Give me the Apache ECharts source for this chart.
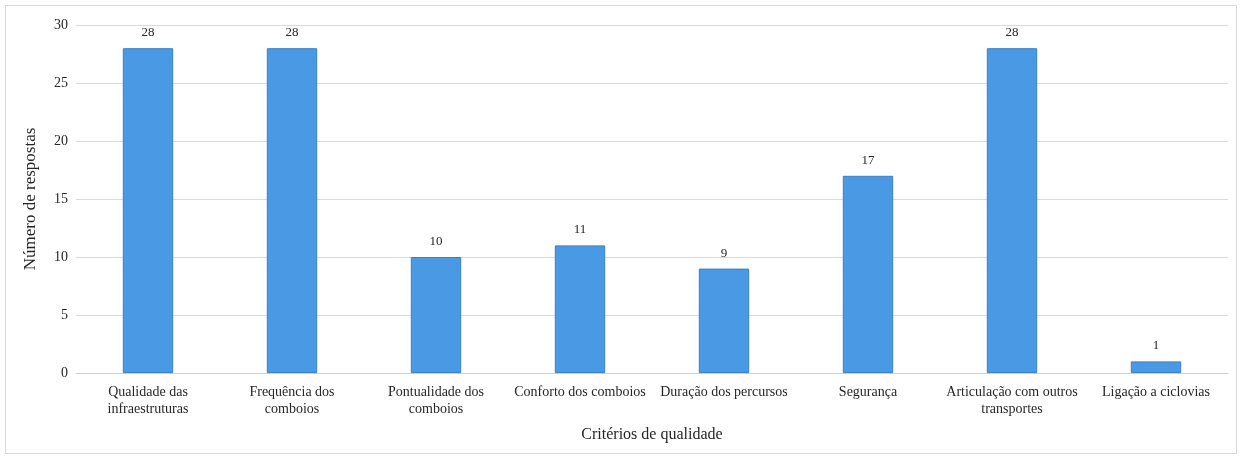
<!DOCTYPE html>
<html>
<head>
<meta charset="utf-8">
<script src="https://cdn.jsdelivr.net/npm/echarts@6/dist/echarts.min.js"></script>
<style>
  html, body { margin: 0; padding: 0; background: #fff; }
  #frame { position: absolute; left: 5px; top: 5px; width: 1232px; height: 449px; border: 1px solid #d9d9d9; box-sizing: border-box; }
  #chart { width: 1243px; height: 459px; }
</style>
</head>
<body>
<div id="frame"></div>
<div id="chart"></div>
<script>
const categories = [
  'Qualidade das\ninfraestruturas',
  'Frequência dos\ncomboios',
  'Pontualidade dos\ncomboios',
  'Conforto dos comboios',
  'Duração dos percursos',
  'Segurança',
  'Articulação com outros\ntransportes',
  'Ligação a ciclovias'
];
const respostas = [28, 28, 10, 11, 9, 17, 28, 1];
const yTicks = { min: 0, max: 30, interval: 5 };

const font = 'Liberation Serif, Times New Roman, serif';
const chart = echarts.init(document.getElementById('chart'), null, { renderer: 'canvas' });
chart.setOption({
  animation: false,
  textStyle: { fontFamily: font },
  grid: { left: 76, right: 15, top: 25, bottom: 86, containLabel: false },
  xAxis: {
    type: 'category',
    data: categories,
    name: 'Critérios de qualidade',
    nameLocation: 'middle',
    nameGap: 54,
    nameTextStyle: { fontFamily: font, fontSize: 16, color: '#262626' },
    axisLine: { lineStyle: { color: '#d0d0d0', width: 1 } },
    axisTick: { show: false },
    axisLabel: { fontFamily: font, fontSize: 14, color: '#262626', margin: 11, lineHeight: 17, interval: 0 }
  },
  yAxis: {
    type: 'value',
    min: yTicks.min, max: yTicks.max, interval: yTicks.interval,
    name: 'Número de respostas',
    nameLocation: 'middle',
    nameGap: 37,
    nameTextStyle: { fontFamily: font, fontSize: 17, color: '#262626' },
    axisLine: { show: false },
    axisTick: { show: false },
    splitLine: { lineStyle: { color: '#d9d9d9', width: 1 } },
    axisLabel: { fontFamily: font, fontSize: 14, color: '#262626', margin: 8 }
  },
  series: [{
    type: 'bar',
    data: respostas,
    barWidth: '35%',
    itemStyle: { color: '#4A99E4', borderColor: '#3A7FC6', borderWidth: 1 },
    label: { show: true, position: 'top', distance: 9, fontFamily: font, fontSize: 13, color: '#262626' }
  }]
});
</script>
</body>
</html>
